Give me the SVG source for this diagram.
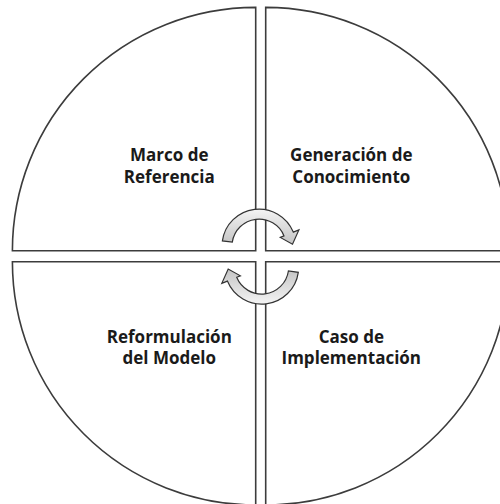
<svg xmlns="http://www.w3.org/2000/svg" width="500" height="504" viewBox="0 0 500 504">
<style>
.q{fill:#fff;stroke:#3c3c3c;stroke-width:1.6;stroke-linejoin:miter}
.t{font-family:"Open Sans","Liberation Sans",sans-serif;font-weight:bold;font-size:17px;fill:#1a1a1a;text-anchor:middle}
.arr{fill:url(#g);stroke:#333;stroke-width:1.2;stroke-linejoin:miter}
</style>
<defs>
<linearGradient id="g" x1="0" y1="0" x2="0" y2="1">
<stop offset="0" stop-color="#f4f4f4"/>
<stop offset="1" stop-color="#c4c4c4"/>
</linearGradient>
</defs>
<rect width="500" height="504" fill="#fff"/>
<g id="marco-de-referencia">
<path class="q" d="M255.7,250.7 L12.4,250.7 A243.3,243.3 0 0 1 255.7,7.4 Z"/>
<text class="t" x="169.3" y="161">Marco de</text>
<text class="t" x="169.3" y="183">Referencia</text>
</g>
<g id="generacion-de-conocimiento">
<path class="q" d="M265.7,250.7 L265.7,7.4 A243.3,243.3 0 0 1 509,250.7 Z"/>
<text class="t" x="351.3" y="161">Generación de</text>
<text class="t" x="351.3" y="183">Conocimiento</text>
</g>
<g id="reformulacion-del-modelo">
<path class="q" d="M255.7,261.7 L255.7,505 A243.3,243.3 0 0 1 12.4,261.7 Z"/>
<text class="t" x="169.3" y="342.7">Reformulación</text>
<text class="t" x="169.3" y="364.3">del Modelo</text>
</g>
<g id="caso-de-implementacion">
<path class="q" d="M265.7,261.7 L509,261.7 A243.3,243.3 0 0 1 265.7,505 Z"/>
<text class="t" x="351.3" y="342.7">Caso de</text>
<text class="t" x="351.3" y="364.3">Implementación</text>
</g>
<g id="connectors">
<path id="arrow-top" class="arr" d="M222.4,240.9 A37,37 0 0 1 293.3,232.1 L298.9,229.9 L292.5,244.2 L280.3,237.4 L284.0,235.9 A27,27 0 0 0 232.3,242.2 Z"/>
<path id="arrow-bottom" class="arr" transform="rotate(180 260.35 256.6)" d="M222.4,240.9 A37,37 0 0 1 293.3,232.1 L298.9,229.9 L292.5,244.2 L280.3,237.4 L284.0,235.9 A27,27 0 0 0 232.3,242.2 Z"/>
</g>
</svg>
